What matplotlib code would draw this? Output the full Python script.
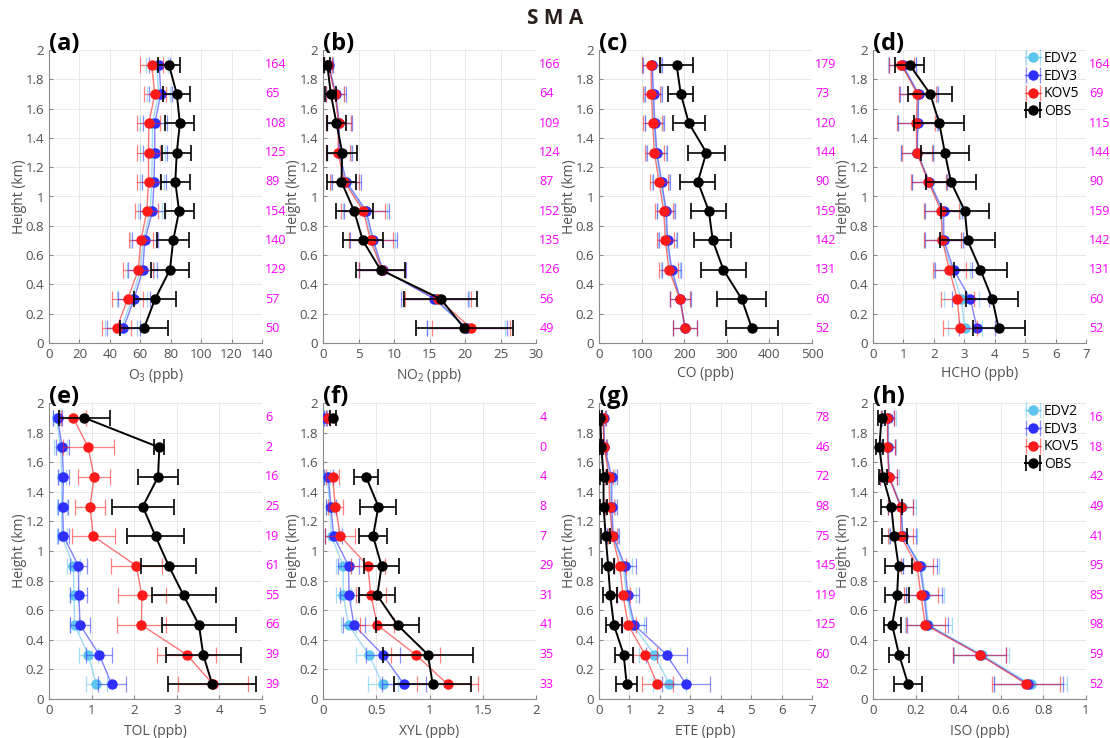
import numpy as np
import matplotlib
matplotlib.use("Agg")
import matplotlib.pyplot as plt
import matplotlib.ticker as mticker
import matplotlib.colors as mcolors

plt.rcParams["font.family"] = ["Open Sans", "DejaVu Sans"]
plt.rcParams["mathtext.default"] = "regular"

heights = [0.1, 0.3, 0.5, 0.7, 0.9, 1.1, 1.3, 1.5, 1.7, 1.9]
series = ["EDV2", "EDV3", "KOV5", "OBS"]
colors = ["#5ec4f0", "#2f2fff", "#ff1a1a", "black"]
nan = np.nan

# rows: EDV2, EDV3, KOV5, OBS ; columns: bottom (0.1 km) to top (1.9 km)
o3_mean = [[47.5, 54.5, 60, 62, 66.5, 67.5, 68, 68, 72, 71],
           [48.9, 55.9, 61.6, 63, 68, 69, 69.5, 69.5, 73.5, 72.4],
           [44.5, 51.7, 58.7, 60.4, 64.3, 65.4, 65.4, 65.6, 69.6, 67.4],
           [62.4, 69.7, 79.5, 81.6, 85.5, 83, 84, 86, 84, 78.8]]
o3_err = [[10.5, 10, 9, 8.5, 8, 8, 8, 8, 7.5, 7],
          [11, 10.5, 9.5, 8.5, 8, 8, 8, 8, 7.5, 7],
          [9.7, 10, 9.8, 8, 7.5, 7.5, 7.5, 7.5, 7, 7.7],
          [15.6, 13.8, 12.7, 10.5, 9.5, 9.5, 9.5, 9.5, 9, 7]]
o3_n = [50, 57, 129, 140, 154, 89, 125, 108, 65, 164]

no2_mean = [[20.2, 15.9, 8.3, 6.9, 5.9, 3.1, 2.2, 2.2, 1.7, 0.75],
            [20.3, 15.7, 8.4, 7.1, 6.1, 3.3, 2.3, 2.3, 1.8, 0.8],
            [20.9, 16.2, 8.3, 6.7, 5.7, 3.0, 2.1, 2.2, 1.7, 0.7],
            [19.9, 16.6, 8.1, 5.6, 4.4, 2.6, 2.7, 1.9, 1.1, 0.6]]
no2_err = [[5.5, 4.7, 3.2, 3.2, 3.1, 2.0, 1.7, 1.7, 1.3, 0.55],
           [5.6, 4.75, 3.3, 3.3, 3.2, 2.1, 1.8, 1.8, 1.4, 0.6],
           [5.5, 4.6, 3.2, 3.1, 3.1, 2.0, 1.7, 1.8, 1.3, 0.5],
           [6.85, 5.15, 3.5, 2.8, 2.6, 2.0, 2.1, 1.4, 0.8, 0.4]]
no2_n = [49, 56, 126, 135, 152, 87, 124, 109, 64, 166]

co_mean = [[201, 190, 168, 159, 156, 145, 134, 129, 126, 124],
           [202, 191, 171, 161, 158, 147, 136, 131, 128, 125],
           [202, 190, 164, 156, 152, 141, 130, 126, 123, 122],
           [359, 335, 292, 267, 258, 232, 252, 211, 192, 182]]
co_err = [[28, 24, 22, 21, 21, 20, 23, 22, 20, 22],
          [28, 24, 22, 21, 21, 20, 23, 22, 20, 22],
          [28, 24, 22, 21, 21, 21, 23, 23, 20, 22],
          [61, 58, 53, 44, 41, 41, 44, 38, 29, 38]]
co_n = [52, 60, 131, 142, 159, 90, 144, 120, 73, 179]

hcho_mean = [[3.02, 2.9, 2.6, 2.28, 2.27, 1.84, 1.45, 1.46, 1.48, 0.95],
             [3.42, 3.2, 2.65, 2.33, 2.32, 1.85, 1.45, 1.48, 1.5, 0.97],
             [2.86, 2.77, 2.51, 2.28, 2.24, 1.82, 1.44, 1.42, 1.46, 0.93],
             [4.13, 3.92, 3.53, 3.11, 3.02, 2.56, 2.36, 2.18, 1.88, 1.2]]
hcho_err = [[0.57, 0.58, 0.58, 0.6, 0.58, 0.57, 0.52, 0.65, 0.62, 0.45],
            [0.6, 0.6, 0.6, 0.62, 0.6, 0.58, 0.52, 0.65, 0.62, 0.45],
            [0.55, 0.55, 0.55, 0.6, 0.57, 0.57, 0.5, 0.62, 0.62, 0.42],
            [0.85, 0.85, 0.87, 0.9, 0.8, 0.83, 0.78, 0.82, 0.73, 0.48]]
hcho_n = [52, 60, 131, 142, 159, 90, 144, 115, 69, 164]

tol_mean = [[1.11, 0.92, 0.6, 0.59, 0.57, 0.3, 0.3, 0.3, 0.27, 0.18],
            [1.47, 1.18, 0.73, 0.7, 0.69, 0.34, 0.32, 0.34, 0.31, 0.2],
            [3.85, 3.23, 2.17, 2.18, 2.05, 1.04, 0.96, 1.06, 0.92, 0.57],
            [3.83, 3.62, 3.52, 3.16, 2.81, 2.5, 2.2, 2.56, 2.59, 0.83]]
tol_err = [[0.25, 0.22, 0.1, 0.1, 0.15, 0.12, 0.12, 0.1, 0.15, 0.08],
           [0.33, 0.3, 0.24, 0.2, 0.2, 0.12, 0.12, 0.12, 0.15, 0.1],
           [0.82, 0.7, 0.58, 0.57, 0.6, 0.51, 0.35, 0.38, 0.6, 0.3],
           [1.03, 0.88, 0.87, 0.75, 0.65, 0.66, 0.73, 0.47, 0.12, 0.6]]
tol_n = [39, 39, 66, 55, 61, 19, 25, 16, 2, 6]

xyl_mean = [[0.56, 0.43, 0.24, 0.19, 0.19, 0.08, 0.065, 0.04, nan, 0.018],
            [0.76, 0.56, 0.29, 0.245, 0.24, 0.1, 0.075, 0.05, nan, 0.02],
            [1.17, 0.87, 0.51, 0.45, 0.42, 0.163, 0.116, 0.09, nan, 0.047],
            [1.03, 0.985, 0.70, 0.51, 0.55, 0.47, 0.52, 0.405, nan, 0.094]]
xyl_err = [[0.14, 0.12, 0.07, 0.07, 0.07, 0.06, 0.04, 0.03, nan, 0.012],
           [0.21, 0.16, 0.1, 0.09, 0.1, 0.08, 0.05, 0.04, nan, 0.015],
           [0.29, 0.23, 0.16, 0.14, 0.16, 0.14, 0.07, 0.06, nan, 0.02],
           [0.36, 0.42, 0.2, 0.17, 0.165, 0.13, 0.17, 0.11, nan, 0.03]]
xyl_n = [33, 35, 41, 31, 29, 7, 8, 4, 0, 4]

ete_mean = [[2.31, 1.82, 1.12, 0.9, 0.8, 0.45, 0.38, 0.38, 0.17, 0.14],
            [2.86, 2.22, 1.16, 0.95, 0.85, 0.47, 0.42, 0.42, 0.18, 0.15],
            [1.91, 1.51, 0.96, 0.79, 0.68, 0.44, 0.35, 0.33, 0.17, 0.13],
            [0.91, 0.81, 0.49, 0.37, 0.3, 0.22, 0.15, 0.15, 0.08, 0.04]]
ete_err = [[0.55, 0.5, 0.35, 0.3, 0.3, 0.18, 0.16, 0.16, 0.07, 0.06],
           [0.8, 0.68, 0.4, 0.35, 0.35, 0.2, 0.18, 0.18, 0.08, 0.07],
           [0.51, 0.38, 0.25, 0.22, 0.2, 0.15, 0.14, 0.14, 0.06, 0.06],
           [0.34, 0.3, 0.25, 0.23, 0.2, 0.15, 0.12, 0.12, 0.06, 0.05]]
ete_n = [52, 60, 125, 119, 145, 75, 98, 72, 46, 78]

iso_mean = [[0.74, 0.51, 0.26, 0.245, 0.225, 0.14, 0.135, 0.077, 0.072, 0.072],
            [0.73, 0.5, 0.255, 0.24, 0.22, 0.14, 0.13, 0.075, 0.07, 0.07],
            [0.72, 0.5, 0.246, 0.225, 0.207, 0.13, 0.13, 0.075, 0.068, 0.068],
            [0.165, 0.122, 0.09, 0.113, 0.12, 0.1, 0.086, 0.047, 0.03, 0.04]]
iso_err = [[0.17, 0.13, 0.11, 0.09, 0.085, 0.065, 0.065, 0.045, 0.035, 0.035],
           [0.16, 0.125, 0.095, 0.085, 0.08, 0.06, 0.06, 0.04, 0.035, 0.03],
           [0.16, 0.125, 0.09, 0.08, 0.075, 0.06, 0.06, 0.04, 0.035, 0.03],
           [0.067, 0.045, 0.04, 0.055, 0.065, 0.06, 0.05, 0.02, 0.015, 0.015]]
iso_n = [52, 59, 98, 85, 95, 41, 49, 42, 18, 16]

panels = [
    ("(a)", "O$_3$ (ppb)", o3_mean, o3_err, o3_n, 140, 20),
    ("(b)", "NO$_2$ (ppb)", no2_mean, no2_err, no2_n, 30, 5),
    ("(c)", "CO (ppb)", co_mean, co_err, co_n, 500, 100),
    ("(d)", "HCHO (ppb)", hcho_mean, hcho_err, hcho_n, 7, 1),
    ("(e)", "TOL (ppb)", tol_mean, tol_err, tol_n, 5, 1),
    ("(f)", "XYL (ppb)", xyl_mean, xyl_err, xyl_n, 2, 0.5),
    ("(g)", "ETE (ppb)", ete_mean, ete_err, ete_n, 7, 1),
    ("(h)", "ISO (ppb)", iso_mean, iso_err, iso_n, 1, 0.2),
]

fig = plt.figure(figsize=(11.1, 7.38), dpi=100)
fig.text(0.5, 0.975, "S M A", ha="center", va="center", fontsize=15,
         fontweight="bold", color="#2a1f1f")

lefts = [49, 323, 599, 873]
for k, (lab, xlab, means, errs, counts, xmax, xstep) in enumerate(panels):
    row, col = divmod(k, 4)
    if row == 0:
        rect = [lefts[col] / 1110, 1 - 343 / 738, 213 / 1110, 293 / 738]
    else:
        rect = [lefts[col] / 1110, 1 - 699 / 738, 213 / 1110, 296 / 738]
    ax = fig.add_axes(rect)
    ax.grid(True, color="#e8e8e8", linewidth=0.7)
    ax.set_axisbelow(True)

    for i, name in enumerate(series):
        if name == "OBS":
            ax.errorbar(means[i], heights, xerr=errs[i], color="black",
                        marker="o", markersize=6.5, linewidth=1.4,
                        elinewidth=1.2, capsize=6, capthick=1.2, label=name,
                        zorder=5)
        else:
            line_c = mcolors.to_rgba(colors[i], 0.6)
            bar_c = mcolors.to_rgba(colors[i], 0.55)
            ax.errorbar(means[i], heights, xerr=errs[i], color=line_c,
                        ecolor=bar_c, marker="o", markersize=6.5,
                        markerfacecolor=colors[i], markeredgecolor=colors[i],
                        linewidth=1.0, elinewidth=0.9, capsize=6,
                        capthick=0.9, label=name, zorder=3 + i * 0.1)

    for y, n in zip(heights, counts):
        ax.text(1.015, y / 2, str(n), transform=ax.transAxes, color="#ff00ff",
                fontsize=9, ha="left", va="center")

    ax.set_xlim(0, xmax)
    ax.set_ylim(0, 2)
    ax.xaxis.set_major_locator(mticker.MultipleLocator(xstep))
    ax.yaxis.set_major_locator(mticker.MultipleLocator(0.2))
    ax.yaxis.set_major_formatter(mticker.FuncFormatter(lambda v, p: f"{v:g}"))
    ax.xaxis.set_major_formatter(mticker.FuncFormatter(lambda v, p: f"{v:g}"))
    for s in ["top", "right"]:
        ax.spines[s].set_visible(False)
    for s in ["left", "bottom"]:
        ax.spines[s].set_color("#8a8a8a")
        ax.spines[s].set_linewidth(0.8)
    ax.tick_params(direction="in", length=3, color="#8a8a8a",
                   labelcolor="#505050", labelsize=9.5)
    ax.set_xlabel(xlab, fontsize=10, color="#505050",
                  labelpad=4 if row == 0 else 5)
    ax.set_ylabel("Height (km)", fontsize=10, color="#505050", labelpad=-1)
    ax.text(0.0, 1.02, lab, transform=ax.transAxes, fontsize=17,
            fontweight="bold", ha="left", va="center", color="black")

    if col == 3:
        ax.legend(loc="upper right", bbox_to_anchor=(1.015, 1.03),
                  frameon=False, fontsize=10, handlelength=1.2,
                  handletextpad=0.2, labelspacing=0.2, borderaxespad=0.3)

fig.savefig("out.png", dpi=100)
